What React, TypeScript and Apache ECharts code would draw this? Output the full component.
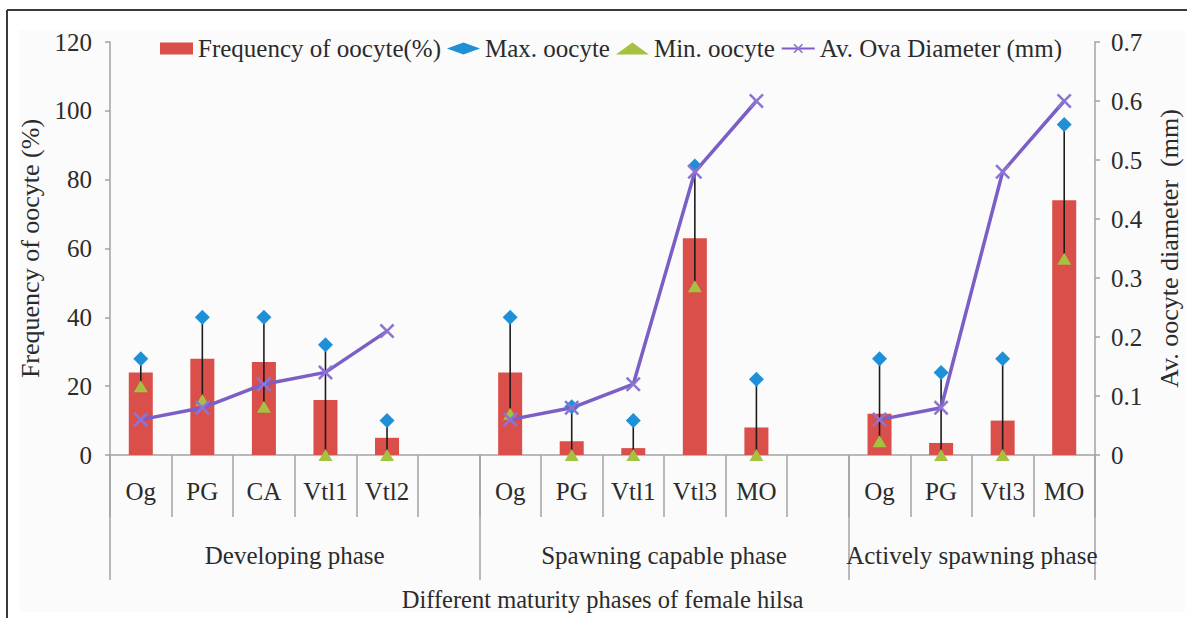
import React, { useEffect, useRef } from "react";
import * as echarts from "echarts";

const categories = ["Og", "PG", "CA", "Vtl1", "Vtl2", "", "Og", "PG", "Vtl1", "Vtl3", "MO", "", "Og", "PG", "Vtl3", "MO"];
const groupNames = ["Developing phase", "Spawning capable phase", "Actively spawning phase"];
const groupBounds = [0, 6, 12, 16];
const groupCenters = [3, 9, 14];
const frequency = [24, 28, 27, 16, 5, null, 24, 4, 2, 63, 8, null, 12, 3.5, 10, 74];
const maxOocyte = [28, 40, 40, 32, 10, null, 40, 14, 10, 84, 22, null, 28, 24, 28, 96];
const minOocyte = [20, 16, 14, 0, 0, null, 12, 0, 0, 49, 0, null, 4, 0, 0, 57];
const avDiameter = [0.06, 0.08, 0.12, 0.14, 0.21, null, 0.06, 0.08, 0.12, 0.48, 0.6, null, 0.06, 0.08, 0.48, 0.6];

const FONT = "Liberation Serif, Times New Roman, serif";
const TXT = "#2b2b2b";
const AX = "#a3a3a3";
const XPATH = "path://M1.2,0 L5,3.8 L8.8,0 L10,1.2 L6.2,5 L10,8.8 L8.8,10 L5,6.2 L1.2,10 L0,8.8 L3.8,5 L0,1.2 Z";

export default function App() {
  const ref = useRef<HTMLDivElement>(null);
  useEffect(() => {
    if (!ref.current) return;
    const chart = echarts.init(ref.current, null, { renderer: "svg" });
    const errData: any[] = [];
    categories.forEach((_, i) => {
      if (minOocyte[i] != null && maxOocyte[i] != null) errData.push([i, minOocyte[i], maxOocyte[i]]);
    });
    const txt = (extra: any = {}) => ({ fontFamily: FONT, fontSize: 25, color: TXT, ...extra });
    const option: any = {
      animation: false,
      backgroundColor: "#ffffff",
      textStyle: { fontFamily: FONT },
      graphic: [
        { type: "rect", z: -10, shape: { x: 19, y: 30, width: 1166, height: 582 }, style: { fill: "#fbfbfb" }, silent: true },
        { type: "line", shape: { x1: 7, y1: 10, x2: 1187, y2: 10 }, style: { stroke: "#3a3a3a", lineWidth: 2 }, silent: true },
        { type: "line", shape: { x1: 7, y1: 10, x2: 7, y2: 618 }, style: { stroke: "#3a3a3a", lineWidth: 2 }, silent: true },
      ],
      legend: {
        left: 155,
        top: 31,
        itemWidth: 33,
        itemHeight: 12,
        itemGap: 6,
        textStyle: txt(),
        data: [
          { name: "Frequency of oocyte(%)", icon: "rect" },
          { name: "Max. oocyte", icon: "diamond" },
          { name: "Min. oocyte", icon: "triangle" },
          { name: "Av. Ova Diameter (mm)" },
        ],
      },
      grid: { left: 110, right: 92, top: 42, bottom: 163, containLabel: false, outerBoundsMode: "none" },
      xAxis: [
        {
          type: "category",
          data: categories,
          boundaryGap: true,
          axisLine: { lineStyle: { color: AX, width: 1.5 } },
          axisTick: { show: true, interval: 0, length: 62, lineStyle: { color: AX, width: 1.5 } },
          axisLabel: txt({ interval: 0, margin: 24 }),
          splitLine: { show: false },
        },
        {
          type: "value",
          min: 0,
          max: 16,
          position: "bottom",
          axisLine: { show: false },
          splitLine: { show: false },
          axisTick: { show: true, length: 125, customValues: groupBounds, lineStyle: { color: AX, width: 1.5 } },
          axisLabel: txt({
            customValues: groupCenters,
            margin: 88,
            formatter: (v: number) => {
              const k = groupCenters.indexOf(v);
              return k >= 0 ? groupNames[k] : "";
            },
          }),
          name: "Different maturity phases of female hilsa",
          nameLocation: "middle",
          nameGap: 132,
          nameTextStyle: txt({ fontSize: 24.5 }),
        },
      ],
      yAxis: [
        {
          type: "value",
          min: 0,
          max: 120,
          interval: 20,
          position: "left",
          axisLine: { show: true, lineStyle: { color: AX, width: 1.5 } },
          axisTick: { show: true, length: 5, lineStyle: { color: AX, width: 1.5 } },
          axisLabel: txt({ margin: 18 }),
          splitLine: { show: false },
          name: "Frequency of oocyte (%)",
          nameLocation: "middle",
          nameRotate: 90,
          nameGap: 66,
          nameTextStyle: txt({ fontSize: 26 }),
        },
        {
          type: "value",
          min: 0,
          max: 0.7,
          interval: 0.1,
          position: "right",
          axisLine: { show: true, lineStyle: { color: AX, width: 1.5 } },
          axisTick: { show: true, length: 5, lineStyle: { color: AX, width: 1.5 } },
          axisLabel: txt({ margin: 16, formatter: (v: number) => String(Math.round(v * 10) / 10) }),
          splitLine: { show: false },
          name: "Av. oocyte diameter  (mm)",
          nameLocation: "middle",
          nameRotate: 90,
          nameGap: 61,
          nameTextStyle: txt({ fontSize: 26 }),
        },
      ],
      series: [
        {
          name: "Frequency of oocyte(%)",
          type: "bar",
          data: frequency,
          barWidth: "39%",
          itemStyle: { color: "#DA4F4A" },
          z: 2,
        },
        {
          name: "errbars",
          type: "custom",
          data: errData,
          encode: { x: 0, y: [1, 2] },
          z: 3,
          renderItem: (params: any, api: any) => {
            const x = api.value(0);
            const lo = api.coord([x, api.value(1)]);
            const hi = api.coord([x, api.value(2)]);
            return {
              type: "line",
              shape: { x1: lo[0], y1: lo[1], x2: hi[0], y2: hi[1] },
              style: { stroke: "#1c1c1c", lineWidth: 1.6 },
            };
          },
        },
        {
          name: "Min. oocyte",
          type: "scatter",
          data: minOocyte,
          symbol: "triangle",
          symbolSize: [14, 12],
          itemStyle: { color: "#A5C13F", opacity: 1 },
          z: 4,
        },
        {
          name: "Max. oocyte",
          type: "scatter",
          data: maxOocyte,
          symbol: "diamond",
          symbolSize: 15,
          itemStyle: { color: "#1F8FD8", opacity: 1 },
          z: 5,
        },
        {
          name: "Av. Ova Diameter (mm)",
          type: "line",
          yAxisIndex: 1,
          data: avDiameter,
          connectNulls: false,
          symbol: XPATH,
          symbolSize: 15,
          showSymbol: true,
          lineStyle: { color: "#7B5EC6", width: 3.5 },
          itemStyle: { color: "#8d74d2" },
          z: 6,
        },
      ],
    };
    chart.setOption(option);
    return () => chart.dispose();
  }, []);
  return (
    <div style={{ position: "fixed", left: 0, top: 0, width: 1187, height: 618 }}>
      <div ref={ref} style={{ width: 1187, height: 618 }} />
    </div>
  );
}
